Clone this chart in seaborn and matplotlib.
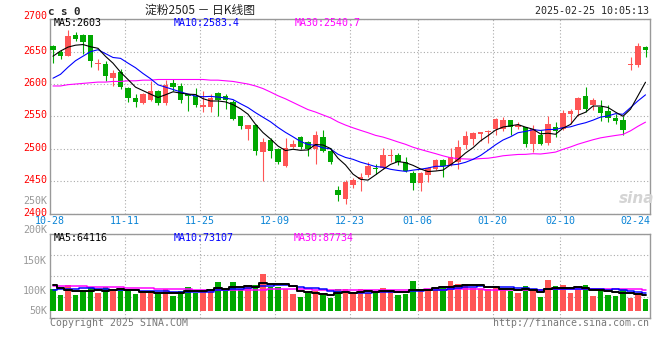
import numpy as np
import pandas as pd
import seaborn as sns
import matplotlib.pyplot as plt
from matplotlib.transforms import ScaledTranslation

# daily candles 2024-10-28 .. 2025-02-25 (80 trading days)
opens = [2659, 2649, 2644, 2675, 2676, 2676, 2631, 2631, 2610, 2619,
         2594, 2578, 2570, 2575, 2590, 2570, 2602, 2597, 2584, 2581,
         2564, 2564, 2586, 2581, 2573, 2550, 2530, 2536, 2495, 2513,
         2499, 2474, 2503, 2518, 2511, 2500, 2518, 2496, 2437, 2422,
         2444, 2453, 2460, 2471, 2470, 2489, 2490, 2479, 2462, 2447,
         2460, 2468, 2483, 2475, 2480, 2506, 2515, 2523, 2526, 2530,
         2530, 2544, 2533, 2533, 2507, 2522, 2509, 2533, 2530, 2553,
         2560, 2582, 2568, 2564, 2559, 2548, 2544, 2629, 2630, 2657]
highs = [2661, 2653, 2683, 2680, 2677, 2676, 2638, 2636, 2621, 2623,
         2596, 2584, 2586, 2604, 2591, 2606, 2608, 2602, 2585, 2594,
         2590, 2585, 2587, 2584, 2575, 2551, 2537, 2538, 2517, 2516,
         2501, 2517, 2513, 2519, 2512, 2528, 2529, 2501, 2442, 2451,
         2455, 2462, 2479, 2476, 2501, 2499, 2494, 2488, 2466, 2464,
         2472, 2484, 2484, 2501, 2513, 2528, 2526, 2526, 2529, 2547,
         2549, 2545, 2541, 2534, 2537, 2529, 2550, 2541, 2560, 2562,
         2580, 2595, 2579, 2575, 2567, 2553, 2550, 2641, 2664, 2659]
lows = [2633, 2638, 2643, 2666, 2647, 2627, 2622, 2605, 2597, 2593,
        2573, 2564, 2569, 2574, 2568, 2567, 2590, 2570, 2558, 2564,
        2557, 2557, 2550, 2562, 2544, 2530, 2514, 2490, 2450, 2486,
        2477, 2472, 2501, 2500, 2489, 2476, 2495, 2476, 2419, 2414,
        2439, 2434, 2457, 2461, 2468, 2480, 2475, 2464, 2437, 2434,
        2449, 2467, 2456, 2473, 2468, 2500, 2506, 2512, 2509, 2522,
        2528, 2522, 2530, 2503, 2495, 2506, 2506, 2518, 2529, 2538,
        2551, 2557, 2560, 2543, 2541, 2539, 2522, 2621, 2627, 2642]
closes = [2652, 2644, 2674, 2670, 2665, 2635, 2632, 2612, 2617, 2596,
          2578, 2573, 2585, 2590, 2570, 2599, 2596, 2575, 2582, 2567,
          2567, 2578, 2575, 2575, 2546, 2535, 2536, 2497, 2511, 2497,
          2480, 2501, 2507, 2503, 2500, 2522, 2497, 2480, 2428, 2448,
          2451, 2457, 2474, 2468, 2490, 2490, 2479, 2466, 2447, 2462,
          2470, 2483, 2473, 2488, 2503, 2520, 2524, 2526, 2528, 2546,
          2544, 2533, 2536, 2508, 2530, 2508, 2538, 2528, 2555, 2559,
          2579, 2561, 2576, 2555, 2548, 2543, 2529, 2631, 2659, 2652]
volumes = [96900, 70000, 114700, 70000, 88000, 107000, 79000, 105800, 88000, 96900,
           89400, 74500, 77500, 77500, 74500, 96900, 67000, 86400, 105800, 79000,
           93900, 93900, 128000, 86400, 128000, 98000, 110000, 114700, 164000, 104000,
           107000, 96900, 74500, 61000, 77500, 89400, 68500, 58000, 96900, 96900,
           73000, 96900, 79000, 79000, 101000, 86400, 70000, 74500, 134000, 96900,
           96900, 93900, 101000, 134000, 119000, 119000, 101000, 96900, 96900, 105800,
           93900, 86400, 79000, 110000, 86400, 62600, 137000, 110000, 114700, 79000,
           93900, 114700, 67000, 96900, 70000, 67000, 96900, 58000, 79000, 53600]

# moving-average values before a full window exists
ma5_head = [2643, 2651, 2657, 2660]
ma10_head = [2609, 2615, 2626, 2636, 2643, 2650, 2653, 2647, 2641]
ma30_head = [2597, 2597, 2599, 2600, 2601, 2602, 2603, 2603, 2604, 2604,
             2605, 2605, 2606, 2606, 2607, 2607, 2607, 2607, 2607, 2607,
             2607, 2606, 2606, 2605, 2604, 2602, 2600, 2597, 2593]
vma5_head = [113000, 101000, 92000, 89000]
vma10_head = [93900, 95400, 98300, 98300, 101000, 101000, 98000, 95400, 92400]
vma30_head = [110000, 110000, 109000, 109000, 109000, 108000, 108000, 108000, 107000, 104000,
              103000, 102000, 101000, 100000, 98000, 96000, 95000, 95000, 95000, 94000,
              94000, 94000, 94000, 94000, 94000, 94000, 94000, 94000, 94000]

tick_idx = [0, 10, 20, 30, 40, 49, 59, 68, 78]
tick_labels = ["10-28", "11-11", "11-25", "12-09", "12-23", "01-06", "01-20", "02-10", "02-24"]
price_ticks = [2400, 2450, 2500, 2550, 2600, 2650, 2700]
vol_labels = ["250K", "200K", "150K", "100K", "50K"]
vol_label_px = [200.5, 230.5, 260.5, 290.5, 310.5]

RED, GREEN = "#ff5555", "#00a800"
GRID = dict(color="#aaaaaa", linestyle=(0, (1, 2)), linewidth=0.8)
MONO = "DejaVu Sans Mono"

sns.set_style("white")
plt.rcParams["font.family"] = [MONO, "Noto Sans CJK SC"]

df = pd.DataFrame({"open": opens, "high": highs, "low": lows,
                   "close": closes, "vol": volumes})
df["x"] = np.arange(len(df)) + 0.4
df["up"] = df["close"] >= df["open"]
colors = np.where(df["up"], RED, GREEN)


def with_head(series, n, head):
    ma = series.rolling(n).mean()
    ma.iloc[:len(head)] = head
    return ma


df["ma5"] = with_head(df["close"], 5, ma5_head)
df["ma10"] = with_head(df["close"], 10, ma10_head)
df["ma30"] = with_head(df["close"], 30, ma30_head)
df["vma5"] = with_head(df["vol"], 5, vma5_head)
df["vma10"] = with_head(df["vol"], 10, vma10_head)
df["vma30"] = with_head(df["vol"], 30, vma30_head)

W, H = 660, 360
fig = plt.figure(figsize=(W / 100, H / 100), dpi=100)


def box(l, t, r, b):
    return [l / W, 1 - b / H, (r - l) / W, (b - t) / H]


def fxy(px, py):
    return px / W, 1 - py / H


ax = fig.add_axes(box(50, 19.3, 650, 213.5))
axv = fig.add_axes(box(50, 234, 650, 318))

# candles
body = np.maximum((df["close"] - df["open"]).abs(), 1.3)
ax.vlines(df["x"], df["low"], df["high"], colors=colors, linewidth=0.8, zorder=3)
ax.bar(df["x"], body, bottom=np.minimum(df["open"], df["close"]), width=0.74,
       color=colors, linewidth=0, zorder=3)
for col, c in [("ma30", "#ff00ff"), ("ma10", "#0000ff"), ("ma5", "black")]:
    sns.lineplot(data=df, x="x", y=col, ax=ax, color=c, linewidth=0.8,
                 estimator=None, sort=False, zorder=4)

# volume
axv.bar(df["x"], df["vol"], width=0.74, color=colors, linewidth=0, zorder=3)
for col, c, lw in [("vma30", "#ff00ff", 1.1), ("vma10", "#0000ff", 1.1), ("vma5", "black", 1.4)]:
    sns.lineplot(data=df, x="x", y=col, ax=axv, color=c, linewidth=lw,
                 estimator=None, sort=False, drawstyle="steps-mid", zorder=4)

for a in (ax, axv):
    a.set_xlim(0, 80)
    a.set_xlabel("")
    a.set_ylabel("")
    a.set_xticks(tick_idx)
    a.grid(True, **GRID)
    a.set_axisbelow(True)
    gl = a.get_xgridlines()
    gl[0].set_visible(False)
    gl[-1].set_visible(False)
    a.tick_params(length=0)
    for s in a.spines.values():
        s.set_color("#999999")
        s.set_linewidth(1.0)

ax.set_ylim(2400, 2700)
ax.set_yticks(price_ticks)
ax.set_yticklabels([str(v) for v in price_ticks], color="red", fontsize=7.2, family=MONO)
ax.set_xticklabels(tick_labels, color="#0a84d6", fontsize=7.2, family=MONO)
ax.tick_params(axis="y", pad=2.2)
ax.tick_params(axis="x", pad=2.0)
up_shift = ScaledTranslation(0, 2.0 / 100, fig.dpi_scale_trans)
for lab in ax.get_yticklabels():
    lab.set_transform(lab.get_transform() + up_shift)
ax.get_yticklabels()[-1].set_transform(ax.get_yticklabels()[-1].get_transform()
                                       + ScaledTranslation(0, 2.5 / 100, fig.dpi_scale_trans))

axv.set_ylim(-32780, 342700)
axv.set_yticks(np.linspace(-32780, 342700, 5))
axv.set_yticklabels([])
axv.set_xticklabels([])

for lab, py in zip(vol_labels, vol_label_px):
    fig.text(*fxy(47, py), lab, ha="right", va="center", color="#999999", fontsize=7.2, family=MONO)

# header texts
fig.text(*fxy(48, 11.7), "c s 0", ha="left", va="center", fontsize=7.8, fontweight="bold", family=MONO)
fig.text(*fxy(200, 10), "淀粉2505 － 日K线图", ha="center", va="center", fontsize=8.5,
         family=["Noto Sans CJK SC", "DejaVu Sans"], color="#222222")
fig.text(*fxy(649, 11.5), "2025-02-25 10:05:13", ha="right", va="center", fontsize=7.2, family=MONO)

fig.text(*fxy(53.5, 23.3), "MA5:2603", va="center", fontsize=7.2, family=MONO, color="black")
fig.text(*fxy(174, 23.3), "MA10:2583.4", va="center", fontsize=7.2, family=MONO, color="#0000ff")
fig.text(*fxy(295, 23.3), "MA30:2540.7", va="center", fontsize=7.2, family=MONO, color="#ff00ff")

fig.text(*fxy(54, 238), "MA5:64116", va="center", fontsize=7.2, family=MONO, color="black")
fig.text(*fxy(174, 238), "MA10:73107", va="center", fontsize=7.2, family=MONO, color="#0000ff")
fig.text(*fxy(294, 238), "MA30:87734", va="center", fontsize=7.2, family=MONO, color="#ff00ff")

fig.text(*fxy(50, 323.5), "Copyright 2025 SINA.COM", va="center", fontsize=7.1, family=MONO, color="#777777")
fig.text(*fxy(649, 323.5), "http://finance.sina.com.cn", ha="right", va="center", fontsize=7.1,
         family=MONO, color="#777777")
fig.text(*fxy(637, 198), "sina", ha="center", va="center", fontsize=11, fontweight="bold",
         style="italic", family="DejaVu Sans", color="#d4d4d4")

fig.savefig("out.png", dpi=100)
